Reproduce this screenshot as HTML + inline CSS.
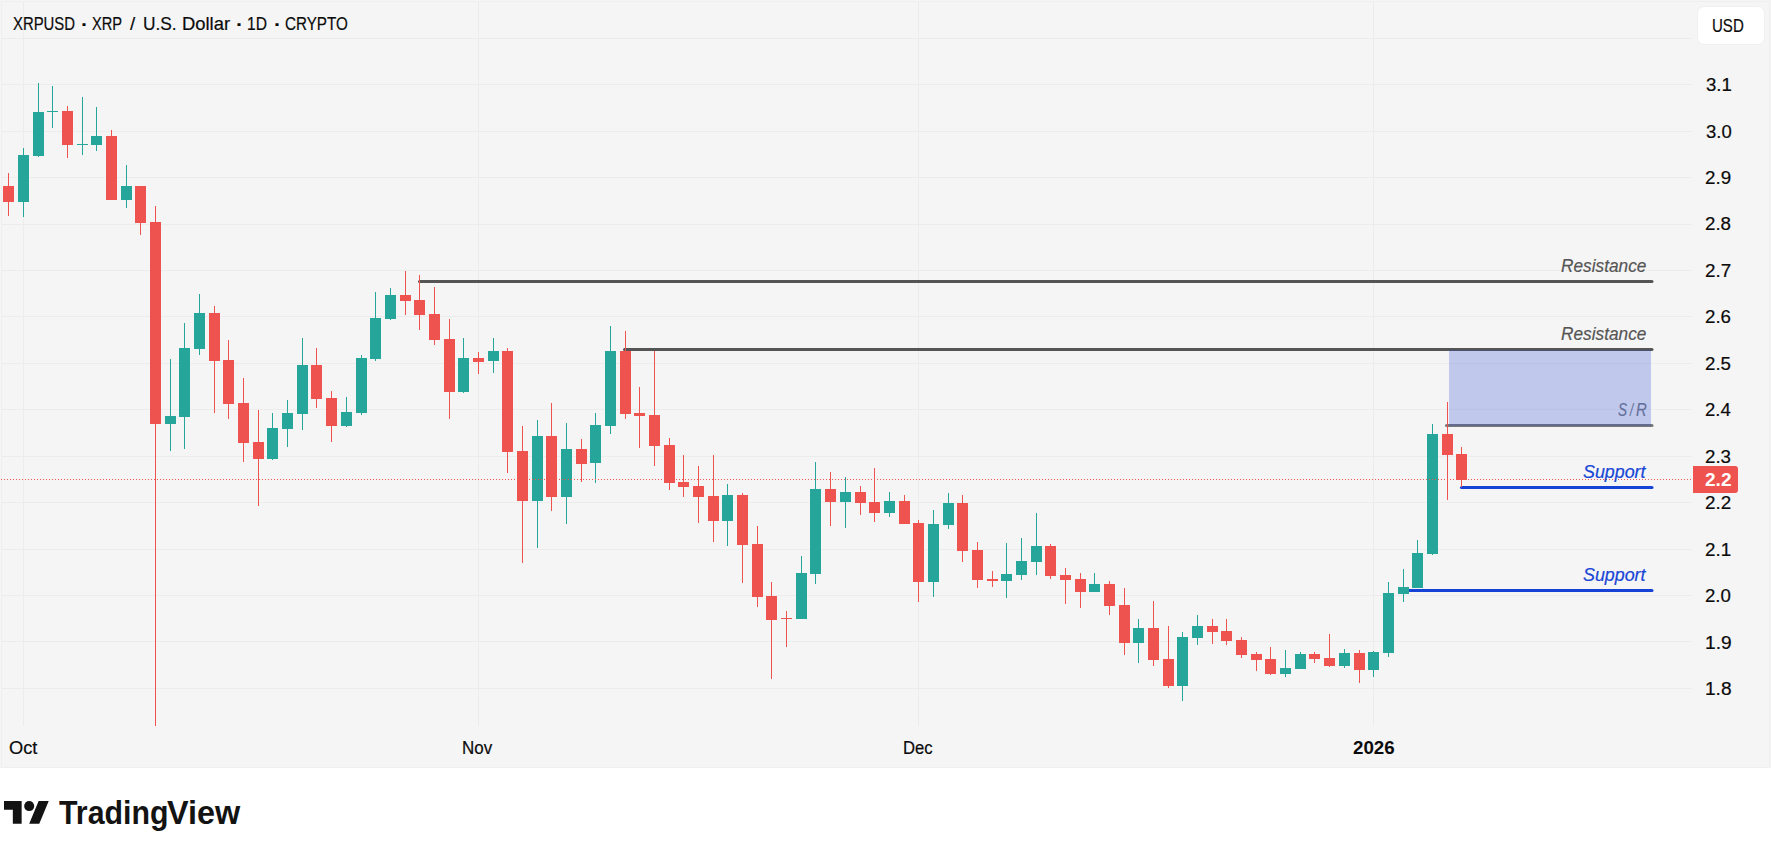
<!DOCTYPE html>
<html><head><meta charset="utf-8"><title>XRPUSD</title>
<style>
html,body{margin:0;padding:0;background:#fff;}
body{width:1771px;height:858px;position:relative;overflow:hidden;font-family:"Liberation Sans",sans-serif;color:#131722;}
#chart{position:absolute;left:0;top:0;width:1771px;height:768px;background:#f5f5f5;overflow:hidden;}
#chart svg{position:absolute;left:0;top:0;}
.g{position:absolute;left:0;top:0;width:0;height:0;font-size:0;line-height:0;white-space:nowrap;}
.w{display:inline-block;position:relative;width:0;white-space:nowrap;line-height:1;vertical-align:top;transform-origin:0 0;}
#frame{position:absolute;left:1px;top:1px;width:1769px;height:767px;border:1px solid #efefef;box-sizing:border-box;}
</style></head><body>
<div id="chart">
<div id="frame"></div>
<svg width="1771" height="768" viewBox="0 0 1771 768" shape-rendering="crispEdges">

<rect x="2" y="84" width="1690" height="1" fill="#ececec"/>
<rect x="2" y="131" width="1690" height="1" fill="#ececec"/>
<rect x="2" y="177" width="1690" height="1" fill="#ececec"/>
<rect x="2" y="224" width="1690" height="1" fill="#ececec"/>
<rect x="2" y="270" width="1690" height="1" fill="#ececec"/>
<rect x="2" y="316" width="1690" height="1" fill="#ececec"/>
<rect x="2" y="363" width="1690" height="1" fill="#ececec"/>
<rect x="2" y="409" width="1690" height="1" fill="#ececec"/>
<rect x="2" y="456" width="1690" height="1" fill="#ececec"/>
<rect x="2" y="502" width="1690" height="1" fill="#ececec"/>
<rect x="2" y="549" width="1690" height="1" fill="#ececec"/>
<rect x="2" y="595" width="1690" height="1" fill="#ececec"/>
<rect x="2" y="641" width="1690" height="1" fill="#ececec"/>
<rect x="2" y="688" width="1690" height="1" fill="#ececec"/>
<rect x="2" y="38" width="1690" height="1" fill="#ececec"/>
<rect x="23" y="2" width="1" height="724" fill="#ececec"/>
<rect x="478" y="2" width="1" height="724" fill="#ececec"/>
<rect x="918" y="2" width="1" height="724" fill="#ececec"/>
<rect x="1373" y="2" width="1" height="724" fill="#ececec"/>
<line x1="1446.5" y1="425.5" x2="1652" y2="425.5" stroke="#787878" stroke-width="3" stroke-linecap="round" shape-rendering="geometricPrecision"/>
<line x1="419.5" y1="281.5" x2="1652" y2="281.5" stroke="#555555" stroke-width="3" stroke-linecap="round" shape-rendering="geometricPrecision"/>
<line x1="624.5" y1="349.5" x2="1652" y2="349.5" stroke="#555555" stroke-width="3" stroke-linecap="round" shape-rendering="geometricPrecision"/>
<rect x="1449" y="349.5" width="202" height="76" fill="rgba(36,70,210,0.25)"/>
<line x1="1461.5" y1="487.5" x2="1652" y2="487.5" stroke="#1643d5" stroke-width="3" stroke-linecap="round" shape-rendering="geometricPrecision"/>
<line x1="1405" y1="590.5" x2="1652" y2="590.5" stroke="#1643d5" stroke-width="3" stroke-linecap="round" shape-rendering="geometricPrecision"/>
<rect x="8" y="173" width="1" height="43" fill="#ef5350"/>
<rect x="3" y="186" width="11" height="16" fill="#ef5350"/>
<rect x="23" y="148" width="1" height="69" fill="#26a69a"/>
<rect x="18" y="155" width="11" height="47" fill="#26a69a"/>
<rect x="38" y="83" width="1" height="74" fill="#26a69a"/>
<rect x="33" y="112" width="11" height="44" fill="#26a69a"/>
<rect x="52" y="86" width="1" height="42" fill="#26a69a"/>
<rect x="47" y="111" width="11" height="1" fill="#26a69a"/>
<rect x="67" y="106" width="1" height="52" fill="#ef5350"/>
<rect x="62" y="111" width="11" height="34" fill="#ef5350"/>
<rect x="82" y="97" width="1" height="58" fill="#26a69a"/>
<rect x="77" y="144" width="11" height="1" fill="#26a69a"/>
<rect x="96" y="107" width="1" height="44" fill="#26a69a"/>
<rect x="91" y="136" width="11" height="9" fill="#26a69a"/>
<rect x="111" y="130" width="1" height="70" fill="#ef5350"/>
<rect x="106" y="136" width="11" height="64" fill="#ef5350"/>
<rect x="126" y="165" width="1" height="43" fill="#26a69a"/>
<rect x="121" y="186" width="11" height="14" fill="#26a69a"/>
<rect x="140" y="186" width="1" height="49" fill="#ef5350"/>
<rect x="135" y="186" width="11" height="37" fill="#ef5350"/>
<rect x="155" y="206" width="1" height="520" fill="#ef5350"/>
<rect x="150" y="222" width="11" height="202" fill="#ef5350"/>
<rect x="170" y="359" width="1" height="92" fill="#26a69a"/>
<rect x="165" y="416" width="11" height="8" fill="#26a69a"/>
<rect x="184" y="323" width="1" height="126" fill="#26a69a"/>
<rect x="179" y="348" width="11" height="69" fill="#26a69a"/>
<rect x="199" y="294" width="1" height="61" fill="#26a69a"/>
<rect x="194" y="313" width="11" height="36" fill="#26a69a"/>
<rect x="214" y="306" width="1" height="107" fill="#ef5350"/>
<rect x="209" y="313" width="11" height="48" fill="#ef5350"/>
<rect x="228" y="340" width="1" height="79" fill="#ef5350"/>
<rect x="223" y="360" width="11" height="44" fill="#ef5350"/>
<rect x="243" y="378" width="1" height="84" fill="#ef5350"/>
<rect x="238" y="403" width="11" height="40" fill="#ef5350"/>
<rect x="258" y="410" width="1" height="96" fill="#ef5350"/>
<rect x="253" y="442" width="11" height="17" fill="#ef5350"/>
<rect x="272" y="413" width="1" height="47" fill="#26a69a"/>
<rect x="267" y="428" width="11" height="31" fill="#26a69a"/>
<rect x="287" y="400" width="1" height="47" fill="#26a69a"/>
<rect x="282" y="413" width="11" height="16" fill="#26a69a"/>
<rect x="302" y="338" width="1" height="92" fill="#26a69a"/>
<rect x="297" y="365" width="11" height="49" fill="#26a69a"/>
<rect x="316" y="348" width="1" height="60" fill="#ef5350"/>
<rect x="311" y="365" width="11" height="34" fill="#ef5350"/>
<rect x="331" y="391" width="1" height="51" fill="#ef5350"/>
<rect x="326" y="398" width="11" height="28" fill="#ef5350"/>
<rect x="346" y="397" width="1" height="30" fill="#26a69a"/>
<rect x="341" y="412" width="11" height="14" fill="#26a69a"/>
<rect x="361" y="355" width="1" height="60" fill="#26a69a"/>
<rect x="356" y="358" width="11" height="55" fill="#26a69a"/>
<rect x="375" y="292" width="1" height="69" fill="#26a69a"/>
<rect x="370" y="318" width="11" height="41" fill="#26a69a"/>
<rect x="390" y="288" width="1" height="32" fill="#26a69a"/>
<rect x="385" y="295" width="11" height="24" fill="#26a69a"/>
<rect x="405" y="271" width="1" height="44" fill="#ef5350"/>
<rect x="400" y="295" width="11" height="6" fill="#ef5350"/>
<rect x="419" y="275" width="1" height="55" fill="#ef5350"/>
<rect x="414" y="300" width="11" height="15" fill="#ef5350"/>
<rect x="434" y="287" width="1" height="58" fill="#ef5350"/>
<rect x="429" y="314" width="11" height="26" fill="#ef5350"/>
<rect x="449" y="319" width="1" height="100" fill="#ef5350"/>
<rect x="444" y="339" width="11" height="53" fill="#ef5350"/>
<rect x="463" y="338" width="1" height="55" fill="#26a69a"/>
<rect x="458" y="358" width="11" height="34" fill="#26a69a"/>
<rect x="478" y="352" width="1" height="22" fill="#ef5350"/>
<rect x="473" y="358" width="11" height="4" fill="#ef5350"/>
<rect x="493" y="338" width="1" height="35" fill="#26a69a"/>
<rect x="488" y="351" width="11" height="10" fill="#26a69a"/>
<rect x="507" y="348" width="1" height="125" fill="#ef5350"/>
<rect x="502" y="351" width="11" height="101" fill="#ef5350"/>
<rect x="522" y="426" width="1" height="137" fill="#ef5350"/>
<rect x="517" y="451" width="11" height="50" fill="#ef5350"/>
<rect x="537" y="420" width="1" height="128" fill="#26a69a"/>
<rect x="532" y="436" width="11" height="65" fill="#26a69a"/>
<rect x="551" y="403" width="1" height="108" fill="#ef5350"/>
<rect x="546" y="436" width="11" height="61" fill="#ef5350"/>
<rect x="566" y="423" width="1" height="101" fill="#26a69a"/>
<rect x="561" y="449" width="11" height="48" fill="#26a69a"/>
<rect x="581" y="439" width="1" height="43" fill="#ef5350"/>
<rect x="576" y="449" width="11" height="15" fill="#ef5350"/>
<rect x="595" y="413" width="1" height="70" fill="#26a69a"/>
<rect x="590" y="425" width="11" height="38" fill="#26a69a"/>
<rect x="610" y="326" width="1" height="108" fill="#26a69a"/>
<rect x="605" y="351" width="11" height="75" fill="#26a69a"/>
<rect x="625" y="331" width="1" height="88" fill="#ef5350"/>
<rect x="620" y="351" width="11" height="63" fill="#ef5350"/>
<rect x="639" y="387" width="1" height="61" fill="#ef5350"/>
<rect x="634" y="413" width="11" height="3" fill="#ef5350"/>
<rect x="654" y="351" width="1" height="115" fill="#ef5350"/>
<rect x="649" y="415" width="11" height="31" fill="#ef5350"/>
<rect x="669" y="438" width="1" height="52" fill="#ef5350"/>
<rect x="664" y="445" width="11" height="38" fill="#ef5350"/>
<rect x="683" y="455" width="1" height="42" fill="#ef5350"/>
<rect x="678" y="482" width="11" height="5" fill="#ef5350"/>
<rect x="698" y="466" width="1" height="57" fill="#ef5350"/>
<rect x="693" y="486" width="11" height="11" fill="#ef5350"/>
<rect x="713" y="455" width="1" height="87" fill="#ef5350"/>
<rect x="708" y="496" width="11" height="25" fill="#ef5350"/>
<rect x="727" y="484" width="1" height="62" fill="#26a69a"/>
<rect x="722" y="495" width="11" height="26" fill="#26a69a"/>
<rect x="742" y="493" width="1" height="90" fill="#ef5350"/>
<rect x="737" y="495" width="11" height="50" fill="#ef5350"/>
<rect x="757" y="526" width="1" height="81" fill="#ef5350"/>
<rect x="752" y="544" width="11" height="53" fill="#ef5350"/>
<rect x="771" y="582" width="1" height="97" fill="#ef5350"/>
<rect x="766" y="596" width="11" height="24" fill="#ef5350"/>
<rect x="786" y="611" width="1" height="36" fill="#ef5350"/>
<rect x="781" y="618" width="11" height="1" fill="#ef5350"/>
<rect x="801" y="556" width="1" height="63" fill="#26a69a"/>
<rect x="796" y="573" width="11" height="46" fill="#26a69a"/>
<rect x="815" y="462" width="1" height="122" fill="#26a69a"/>
<rect x="810" y="489" width="11" height="85" fill="#26a69a"/>
<rect x="830" y="472" width="1" height="54" fill="#ef5350"/>
<rect x="825" y="489" width="11" height="13" fill="#ef5350"/>
<rect x="845" y="477" width="1" height="51" fill="#26a69a"/>
<rect x="840" y="492" width="11" height="10" fill="#26a69a"/>
<rect x="860" y="486" width="1" height="29" fill="#ef5350"/>
<rect x="855" y="492" width="11" height="11" fill="#ef5350"/>
<rect x="874" y="468" width="1" height="54" fill="#ef5350"/>
<rect x="869" y="502" width="11" height="11" fill="#ef5350"/>
<rect x="889" y="492" width="1" height="25" fill="#26a69a"/>
<rect x="884" y="501" width="11" height="12" fill="#26a69a"/>
<rect x="904" y="495" width="1" height="29" fill="#ef5350"/>
<rect x="899" y="501" width="11" height="23" fill="#ef5350"/>
<rect x="918" y="520" width="1" height="82" fill="#ef5350"/>
<rect x="913" y="523" width="11" height="59" fill="#ef5350"/>
<rect x="933" y="510" width="1" height="87" fill="#26a69a"/>
<rect x="928" y="524" width="11" height="58" fill="#26a69a"/>
<rect x="948" y="493" width="1" height="36" fill="#26a69a"/>
<rect x="943" y="503" width="11" height="22" fill="#26a69a"/>
<rect x="962" y="495" width="1" height="67" fill="#ef5350"/>
<rect x="957" y="503" width="11" height="48" fill="#ef5350"/>
<rect x="977" y="542" width="1" height="46" fill="#ef5350"/>
<rect x="972" y="550" width="11" height="30" fill="#ef5350"/>
<rect x="992" y="571" width="1" height="16" fill="#ef5350"/>
<rect x="987" y="579" width="11" height="2" fill="#ef5350"/>
<rect x="1006" y="543" width="1" height="55" fill="#26a69a"/>
<rect x="1001" y="574" width="11" height="7" fill="#26a69a"/>
<rect x="1021" y="538" width="1" height="42" fill="#26a69a"/>
<rect x="1016" y="561" width="11" height="14" fill="#26a69a"/>
<rect x="1036" y="513" width="1" height="62" fill="#26a69a"/>
<rect x="1031" y="546" width="11" height="16" fill="#26a69a"/>
<rect x="1050" y="544" width="1" height="35" fill="#ef5350"/>
<rect x="1045" y="546" width="11" height="30" fill="#ef5350"/>
<rect x="1065" y="568" width="1" height="36" fill="#ef5350"/>
<rect x="1060" y="575" width="11" height="5" fill="#ef5350"/>
<rect x="1080" y="573" width="1" height="35" fill="#ef5350"/>
<rect x="1075" y="579" width="11" height="13" fill="#ef5350"/>
<rect x="1094" y="573" width="1" height="19" fill="#26a69a"/>
<rect x="1089" y="584" width="11" height="8" fill="#26a69a"/>
<rect x="1109" y="581" width="1" height="34" fill="#ef5350"/>
<rect x="1104" y="584" width="11" height="22" fill="#ef5350"/>
<rect x="1124" y="588" width="1" height="67" fill="#ef5350"/>
<rect x="1119" y="605" width="11" height="38" fill="#ef5350"/>
<rect x="1138" y="619" width="1" height="44" fill="#26a69a"/>
<rect x="1133" y="628" width="11" height="15" fill="#26a69a"/>
<rect x="1153" y="601" width="1" height="65" fill="#ef5350"/>
<rect x="1148" y="628" width="11" height="32" fill="#ef5350"/>
<rect x="1168" y="626" width="1" height="62" fill="#ef5350"/>
<rect x="1163" y="659" width="11" height="27" fill="#ef5350"/>
<rect x="1182" y="632" width="1" height="69" fill="#26a69a"/>
<rect x="1177" y="637" width="11" height="49" fill="#26a69a"/>
<rect x="1197" y="615" width="1" height="30" fill="#26a69a"/>
<rect x="1192" y="626" width="11" height="12" fill="#26a69a"/>
<rect x="1212" y="619" width="1" height="25" fill="#ef5350"/>
<rect x="1207" y="626" width="11" height="6" fill="#ef5350"/>
<rect x="1226" y="619" width="1" height="26" fill="#ef5350"/>
<rect x="1221" y="631" width="11" height="10" fill="#ef5350"/>
<rect x="1241" y="637" width="1" height="21" fill="#ef5350"/>
<rect x="1236" y="640" width="11" height="15" fill="#ef5350"/>
<rect x="1256" y="652" width="1" height="19" fill="#ef5350"/>
<rect x="1251" y="654" width="11" height="6" fill="#ef5350"/>
<rect x="1270" y="647" width="1" height="28" fill="#ef5350"/>
<rect x="1265" y="659" width="11" height="15" fill="#ef5350"/>
<rect x="1285" y="650" width="1" height="27" fill="#26a69a"/>
<rect x="1280" y="668" width="11" height="6" fill="#26a69a"/>
<rect x="1300" y="652" width="1" height="17" fill="#26a69a"/>
<rect x="1295" y="654" width="11" height="15" fill="#26a69a"/>
<rect x="1314" y="652" width="1" height="11" fill="#ef5350"/>
<rect x="1309" y="654" width="11" height="5" fill="#ef5350"/>
<rect x="1329" y="634" width="1" height="33" fill="#ef5350"/>
<rect x="1324" y="658" width="11" height="8" fill="#ef5350"/>
<rect x="1344" y="649" width="1" height="19" fill="#26a69a"/>
<rect x="1339" y="653" width="11" height="13" fill="#26a69a"/>
<rect x="1359" y="650" width="1" height="33" fill="#ef5350"/>
<rect x="1354" y="653" width="11" height="17" fill="#ef5350"/>
<rect x="1373" y="651" width="1" height="26" fill="#26a69a"/>
<rect x="1368" y="652" width="11" height="18" fill="#26a69a"/>
<rect x="1388" y="582" width="1" height="75" fill="#26a69a"/>
<rect x="1383" y="593" width="11" height="60" fill="#26a69a"/>
<rect x="1403" y="569" width="1" height="33" fill="#26a69a"/>
<rect x="1398" y="587" width="11" height="7" fill="#26a69a"/>
<rect x="1417" y="540" width="1" height="48" fill="#26a69a"/>
<rect x="1412" y="553" width="11" height="35" fill="#26a69a"/>
<rect x="1432" y="424" width="1" height="131" fill="#26a69a"/>
<rect x="1427" y="434" width="11" height="120" fill="#26a69a"/>
<rect x="1447" y="402" width="1" height="98" fill="#ef5350"/>
<rect x="1442" y="434" width="11" height="21" fill="#ef5350"/>
<rect x="1461" y="447" width="1" height="40" fill="#ef5350"/>
<rect x="1456" y="454" width="11" height="26" fill="#ef5350"/>
<line x1="1" y1="479.5" x2="1692" y2="479.5" stroke="#ef5350" stroke-width="1" stroke-dasharray="1 2"/>
</svg>

<div class="g"><span class="w" style="left:12.87px;top:14.84px;font-size:18.62px;font-weight:normal;font-style:normal;color:#0b0b0b;transform:scaleX(0.7996);-webkit-text-stroke:0.2px currentColor;">XRPUSD</span> <span class="w" style="left:80.50px;top:15.65px;font-size:18.67px;font-weight:bold;color:#0b0b0b;transform:scaleX(1.1480);">·</span> <span class="w" style="left:92.47px;top:14.84px;font-size:18.62px;font-weight:normal;font-style:normal;color:#0b0b0b;transform:scaleX(0.7857);-webkit-text-stroke:0.2px currentColor;">XRP</span> <span class="w" style="left:129.80px;top:14.84px;font-size:18.62px;font-weight:normal;font-style:normal;color:#0b0b0b;transform:scaleX(1.0065);-webkit-text-stroke:0.2px currentColor;">/</span> <span class="w" style="left:142.86px;top:14.84px;font-size:18.62px;font-weight:normal;font-style:normal;color:#0b0b0b;transform:scaleX(0.9307);-webkit-text-stroke:0.2px currentColor;">U.S.</span> <span class="w" style="left:181.98px;top:14.84px;font-size:18.62px;font-weight:normal;font-style:normal;color:#0b0b0b;transform:scaleX(0.9888);-webkit-text-stroke:0.2px currentColor;">Dollar</span> <span class="w" style="left:235.50px;top:15.65px;font-size:18.67px;font-weight:bold;color:#0b0b0b;transform:scaleX(1.1480);">·</span> <span class="w" style="left:247.33px;top:14.84px;font-size:18.62px;font-weight:normal;font-style:normal;color:#0b0b0b;transform:scaleX(0.8371);-webkit-text-stroke:0.2px currentColor;">1D</span> <span class="w" style="left:273.50px;top:15.65px;font-size:18.67px;font-weight:bold;color:#0b0b0b;transform:scaleX(1.1480);">·</span> <span class="w" style="left:285.04px;top:14.84px;font-size:18.62px;font-weight:normal;font-style:normal;color:#0b0b0b;transform:scaleX(0.8178);-webkit-text-stroke:0.2px currentColor;">CRYPTO</span></div>
<div style="position:absolute;left:1697px;top:6px;width:66px;height:37px;background:#fff;border:1px solid #f0f0f0;border-radius:7px;"></div>
<div class="g"><span class="w" style="left:1711.83px;top:16.72px;font-size:18.76px;font-weight:normal;font-style:normal;color:#0b0b0b;transform:scaleX(0.8018);-webkit-text-stroke:0.2px currentColor;">USD</span></div>
<div class="g"><span class="w" style="left:1705.70px;top:76.07px;font-size:18.35px;font-weight:normal;font-style:normal;color:#0b0b0b;transform:scaleX(1.0147);-webkit-text-stroke:0.2px currentColor;">3.1</span></div>
<div class="g"><span class="w" style="left:1705.71px;top:122.54px;font-size:18.35px;font-weight:normal;font-style:normal;color:#0b0b0b;transform:scaleX(1.0070);-webkit-text-stroke:0.2px currentColor;">3.0</span></div>
<div class="g"><span class="w" style="left:1705.46px;top:169.01px;font-size:18.35px;font-weight:normal;font-style:normal;color:#0b0b0b;transform:scaleX(1.0225);-webkit-text-stroke:0.2px currentColor;">2.9</span></div>
<div class="g"><span class="w" style="left:1705.46px;top:215.48px;font-size:18.35px;font-weight:normal;font-style:normal;color:#0b0b0b;transform:scaleX(1.0205);-webkit-text-stroke:0.2px currentColor;">2.8</span></div>
<div class="g"><span class="w" style="left:1705.46px;top:261.95px;font-size:18.35px;font-weight:normal;font-style:normal;color:#0b0b0b;transform:scaleX(1.0265);-webkit-text-stroke:0.2px currentColor;">2.7</span></div>
<div class="g"><span class="w" style="left:1705.46px;top:308.42px;font-size:18.35px;font-weight:normal;font-style:normal;color:#0b0b0b;transform:scaleX(1.0205);-webkit-text-stroke:0.2px currentColor;">2.6</span></div>
<div class="g"><span class="w" style="left:1705.47px;top:354.89px;font-size:18.35px;font-weight:normal;font-style:normal;color:#0b0b0b;transform:scaleX(1.0186);-webkit-text-stroke:0.2px currentColor;">2.5</span></div>
<div class="g"><span class="w" style="left:1705.47px;top:401.36px;font-size:18.35px;font-weight:normal;font-style:normal;color:#0b0b0b;transform:scaleX(1.0089);-webkit-text-stroke:0.2px currentColor;">2.4</span></div>
<div class="g"><span class="w" style="left:1705.46px;top:447.83px;font-size:18.35px;font-weight:normal;font-style:normal;color:#0b0b0b;transform:scaleX(1.0205);-webkit-text-stroke:0.2px currentColor;">2.3</span></div>
<div class="g"><span class="w" style="left:1705.46px;top:494.30px;font-size:18.35px;font-weight:normal;font-style:normal;color:#0b0b0b;transform:scaleX(1.0265);-webkit-text-stroke:0.2px currentColor;">2.2</span></div>
<div class="g"><span class="w" style="left:1705.46px;top:540.77px;font-size:18.35px;font-weight:normal;font-style:normal;color:#0b0b0b;transform:scaleX(1.0245);-webkit-text-stroke:0.2px currentColor;">2.1</span></div>
<div class="g"><span class="w" style="left:1705.47px;top:587.24px;font-size:18.35px;font-weight:normal;font-style:normal;color:#0b0b0b;transform:scaleX(1.0166);-webkit-text-stroke:0.2px currentColor;">2.0</span></div>
<div class="g"><span class="w" style="left:1704.96px;top:633.71px;font-size:18.35px;font-weight:normal;font-style:normal;color:#0b0b0b;transform:scaleX(1.0426);-webkit-text-stroke:0.2px currentColor;">1.9</span></div>
<div class="g"><span class="w" style="left:1704.97px;top:680.18px;font-size:18.35px;font-weight:normal;font-style:normal;color:#0b0b0b;transform:scaleX(1.0406);-webkit-text-stroke:0.2px currentColor;">1.8</span></div>
<div style="position:absolute;left:1693px;top:466px;width:45px;height:27px;background:#ef5350;border-radius:0 3px 3px 0;"></div>
<div class="g"><span class="w" style="left:1705.33px;top:471.12px;font-size:18.64px;font-weight:bold;font-style:normal;color:#fff;transform:scaleX(1.0241);">2.2</span></div>
<div class="g"><span class="w" style="left:8.53px;top:739.21px;font-size:18.18px;font-weight:normal;font-style:normal;color:#0b0b0b;transform:scaleX(1.0047);-webkit-text-stroke:0.2px currentColor;">Oct</span></div>
<div class="g"><span class="w" style="left:462.35px;top:739.21px;font-size:18.18px;font-weight:normal;font-style:normal;color:#0b0b0b;transform:scaleX(0.9324);-webkit-text-stroke:0.2px currentColor;">Nov</span></div>
<div class="g"><span class="w" style="left:903.22px;top:739.21px;font-size:18.18px;font-weight:normal;font-style:normal;color:#0b0b0b;transform:scaleX(0.9169);-webkit-text-stroke:0.2px currentColor;">Dec</span></div>
<div class="g"><span class="w" style="left:1352.59px;top:739.04px;font-size:18.49px;font-weight:bold;font-style:normal;color:#0b0b0b;transform:scaleX(1.0148);">2026</span></div>
<div class="g"><span class="w" style="left:1560.98px;top:257.19px;font-size:18.33px;font-weight:normal;font-style:italic;color:#555;transform:scaleX(0.9414);-webkit-text-stroke:0.2px currentColor;">Resistance</span></div>
<div class="g"><span class="w" style="left:1560.98px;top:325.19px;font-size:18.33px;font-weight:normal;font-style:italic;color:#555;transform:scaleX(0.9414);-webkit-text-stroke:0.2px currentColor;">Resistance</span></div>
<div class="g"><span class="w" style="left:1618.03px;top:401.29px;font-size:18.33px;font-weight:normal;font-style:italic;color:#66709c;transform:scaleX(0.7391);-webkit-text-stroke:0.2px currentColor;">S</span><span class="w" style="left:1629.63px;top:401.29px;font-size:18.33px;font-weight:normal;font-style:italic;color:#66709c;transform:scaleX(0.6273);-webkit-text-stroke:0.2px currentColor;">/</span><span class="w" style="left:1635.65px;top:401.29px;font-size:18.33px;font-weight:normal;font-style:italic;color:#66709c;transform:scaleX(0.8154);-webkit-text-stroke:0.2px currentColor;">R</span></div>
<div class="g"><span class="w" style="left:1582.81px;top:463.22px;font-size:18.11px;font-weight:normal;font-style:italic;color:#1846d6;transform:scaleX(0.9849);-webkit-text-stroke:0.2px currentColor;">Support</span></div>
<div class="g"><span class="w" style="left:1582.81px;top:566.22px;font-size:18.11px;font-weight:normal;font-style:italic;color:#1846d6;transform:scaleX(0.9849);-webkit-text-stroke:0.2px currentColor;">Support</span></div>
</div>
<svg width="45.36" height="35.28" viewBox="0 0 36 28" style="position:absolute;left:4px;top:796px;overflow:visible"><path d="M14 22H7V11H0V4h14v18zM28 22h-8l7.5-18h8L28 22z" fill="#131313"/><circle cx="20" cy="8" r="4" fill="#131313"/></svg>
<div class="g"><span class="w" style="left:59.20px;top:796.94px;font-size:32.44px;font-weight:bold;font-style:normal;color:#131313;transform:scaleX(0.9349);">Trading</span><span class="w" style="left:167.46px;top:796.94px;font-size:32.44px;font-weight:bold;font-style:normal;color:#131313;transform:scaleX(0.9994);">View</span></div>
</body></html>
